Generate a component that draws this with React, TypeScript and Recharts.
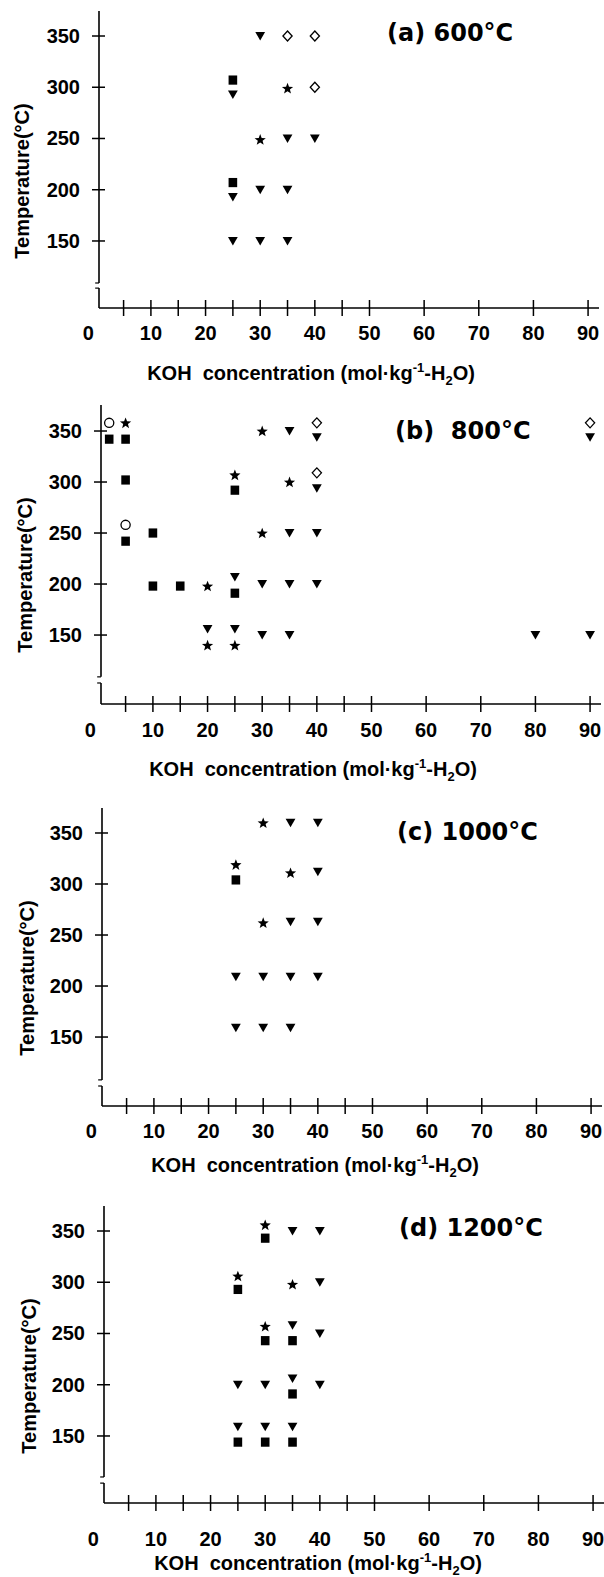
import React from "react";
import { ScatterChart, Scatter, XAxis, YAxis, ReferenceLine } from "recharts";

type Pt = { x: number; y: number };

const xTicks = [0, 5, 10, 15, 20, 25, 30, 35, 40, 45, 50, 60, 70, 80, 90];
const yTicks = [150, 200, 250, 300, 350];

// (a) 600°C
const a600Tri: Pt[] = [
  { x: 30, y: 350 }, { x: 25, y: 293 }, { x: 35, y: 250 }, { x: 40, y: 250 },
  { x: 25, y: 193 }, { x: 30, y: 200 }, { x: 35, y: 200 },
  { x: 25, y: 150 }, { x: 30, y: 150 }, { x: 35, y: 150 },
];
const a600Sq: Pt[] = [{ x: 25, y: 307 }, { x: 25, y: 207 }];
const a600Star: Pt[] = [{ x: 35, y: 299 }, { x: 30, y: 249 }];
const a600Dia: Pt[] = [{ x: 35, y: 350 }, { x: 40, y: 350 }, { x: 40, y: 300 }];

// (b) 800°C
const b800Tri: Pt[] = [
  { x: 35, y: 350 }, { x: 40, y: 344 }, { x: 90, y: 344 }, { x: 40, y: 294 },
  { x: 35, y: 250 }, { x: 40, y: 250 }, { x: 25, y: 207 }, { x: 30, y: 200 },
  { x: 35, y: 200 }, { x: 40, y: 200 }, { x: 20, y: 156 }, { x: 25, y: 156 },
  { x: 30, y: 150 }, { x: 35, y: 150 }, { x: 80, y: 150 }, { x: 90, y: 150 },
];
const b800Sq: Pt[] = [
  { x: 2, y: 342 }, { x: 5, y: 342 }, { x: 5, y: 302 }, { x: 5, y: 242 },
  { x: 10, y: 250 }, { x: 10, y: 198 }, { x: 15, y: 198 }, { x: 25, y: 292 },
  { x: 25, y: 191 },
];
const b800Star: Pt[] = [
  { x: 5, y: 358 }, { x: 30, y: 350 }, { x: 25, y: 307 }, { x: 35, y: 300 },
  { x: 30, y: 250 }, { x: 20, y: 198 }, { x: 20, y: 140 }, { x: 25, y: 140 },
];
const b800Dia: Pt[] = [{ x: 40, y: 358 }, { x: 90, y: 358 }, { x: 40, y: 309 }];
const b800Circ: Pt[] = [{ x: 2, y: 358 }, { x: 5, y: 258 }];

// (c) 1000°C
const c1000Tri: Pt[] = [
  { x: 35, y: 360 }, { x: 40, y: 360 }, { x: 40, y: 312 }, { x: 35, y: 263 },
  { x: 40, y: 263 }, { x: 25, y: 209 }, { x: 30, y: 209 }, { x: 35, y: 209 },
  { x: 40, y: 209 }, { x: 25, y: 159 }, { x: 30, y: 159 }, { x: 35, y: 159 },
];
const c1000Sq: Pt[] = [{ x: 25, y: 304 }];
const c1000Star: Pt[] = [
  { x: 30, y: 360 }, { x: 25, y: 319 }, { x: 35, y: 311 }, { x: 30, y: 262 },
];

// (d) 1200°C
const d1200Tri: Pt[] = [
  { x: 35, y: 350 }, { x: 40, y: 350 }, { x: 40, y: 300 }, { x: 35, y: 258 },
  { x: 40, y: 250 }, { x: 25, y: 200 }, { x: 30, y: 200 }, { x: 35, y: 206 },
  { x: 40, y: 200 }, { x: 25, y: 159 }, { x: 30, y: 159 }, { x: 35, y: 159 },
];
const d1200Sq: Pt[] = [
  { x: 30, y: 343 }, { x: 25, y: 293 }, { x: 30, y: 243 }, { x: 35, y: 243 },
  { x: 35, y: 191 }, { x: 25, y: 144 }, { x: 30, y: 144 }, { x: 35, y: 144 },
];
const d1200Star: Pt[] = [
  { x: 30, y: 356 }, { x: 25, y: 306 }, { x: 35, y: 298 }, { x: 30, y: 257 },
];

const panels = [
  {
    title: "(a) 600°C", top: 11, bottom: 308, left: 99, yMin: 84.6, yMax: 374.4,
    brk: [104, 109], tickDy: 25, titleX: 387, titleY: 33, yLabX: 22, xTitleX: 311, xTitleY: 373,
    tri: a600Tri, sq: a600Sq, star: a600Star, dia: a600Dia, circ: [] as Pt[],
  },
  {
    title: "(b)  800°C", top: 405, bottom: 704, left: 101, yMin: 82.4, yMax: 375.5,
    brk: [103, 109], tickDy: 26, titleX: 395, titleY: 431, yLabX: 25, xTitleX: 313, xTitleY: 769,
    tri: b800Tri, sq: b800Sq, star: b800Star, dia: b800Dia, circ: b800Circ,
  },
  {
    title: "(c) 1000°C", top: 808, bottom: 1106, left: 102, yMin: 82.4, yMax: 374.5,
    brk: [102, 108], tickDy: 25, titleX: 397, titleY: 832, yLabX: 27, xTitleX: 315, xTitleY: 1165,
    tri: c1000Tri, sq: c1000Sq, star: c1000Star, dia: [] as Pt[], circ: [] as Pt[],
  },
  {
    title: "(d) 1200°C", top: 1206, bottom: 1503, left: 104, yMin: 84.6, yMax: 374.4,
    brk: [104, 110], tickDy: 36, titleX: 399, titleY: 1228, yLabX: 29, xTitleX: 318, xTitleY: 1563,
    tri: d1200Tri, sq: d1200Sq, star: d1200Star, dia: [] as Pt[], circ: [] as Pt[],
  },
];

const tickFont = "'Liberation Sans', Arial, Helvetica, sans-serif";

const starPath = (cx: number, cy: number) => {
  let d = "";
  for (let i = 0; i < 10; i++) {
    const r = i % 2 === 0 ? 5.9 : 2.5;
    const a = -Math.PI / 2 + (i * Math.PI) / 5;
    d += `${i === 0 ? "M" : "L"}${cx + r * Math.cos(a)},${cy + r * Math.sin(a)}`;
  }
  return d + "Z";
};

const Marker = ({ cx, cy, kind }: { cx?: number; cy?: number; kind: string }) => {
  if (cx == null || cy == null) return null;
  if (kind === "tri")
    return <path d={`M${cx - 4.9},${cy - 4} L${cx + 4.9},${cy - 4} L${cx},${cy + 4.5} Z`} fill="#000" />;
  if (kind === "sq") return <rect x={cx - 4.3} y={cy - 4.6} width={8.6} height={9.2} fill="#000" />;
  if (kind === "star") return <path d={starPath(cx, cy + 0.5)} fill="#000" />;
  if (kind === "dia")
    return (
      <path
        d={`M${cx},${cy - 5} L${cx + 4.6},${cy} L${cx},${cy + 5} L${cx - 4.6},${cy} Z`}
        fill="#fff"
        stroke="#000"
        strokeWidth={1.3}
      />
    );
  return <circle cx={cx} cy={cy} r={4.6} fill="#fff" stroke="#000" strokeWidth={1.3} />;
};

const XTick = (props: any) => {
  const { x, y, payload, dy } = props;
  const v = payload.value;
  return (
    <g>
      {v !== 0 && <line x1={x} x2={x} y1={y - 8} y2={y + 8} stroke="#000" strokeWidth={1.5} />}
      {v % 10 === 0 && (
        <text
          x={v === 0 ? x - 8 : x}
          y={y + dy}
          textAnchor="middle"
          dominantBaseline="central"
          fontFamily={tickFont}
          fontWeight="bold"
          fontSize={20}
          fill="#000"
        >
          {v}
        </text>
      )}
    </g>
  );
};

const YTick = (props: any) => {
  const { x, y, payload } = props;
  return (
    <g>
      <line x1={x - 7} x2={x + 6} y1={y} y2={y} stroke="#000" strokeWidth={1.5} />
      <text
        x={x - 19}
        y={y}
        textAnchor="end"
        dominantBaseline="central"
        fontFamily={tickFont}
        fontWeight="bold"
        fontSize={20}
        fill="#000"
      >
        {payload.value}
      </text>
    </g>
  );
};

const kinds = ["tri", "sq", "star", "dia", "circ"] as const;

export default function App() {
  return (
    <div
      style={{
        position: "absolute",
        left: 0,
        top: 0,
        width: 604,
        height: 1577,
        background: "#fff",
        overflow: "hidden",
      }}
    >
      {panels.map((p) => {
        const plotH = p.bottom - p.top;
        return (
          <div key={p.title} style={{ position: "absolute", left: 0, top: p.top - 10 }}>
            <ScatterChart
              width={604}
              height={10 + plotH + 50}
              margin={{ top: 10, right: 604 - p.left - 500, bottom: 0, left: 0 }}
            >
              <XAxis
                type="number"
                dataKey="x"
                domain={[0.5, 92]}
                allowDataOverflow
                ticks={xTicks}
                interval={0}
                height={50}
                tickSize={0}
                tickMargin={0}
                axisLine={{ stroke: "#000", strokeWidth: 1.6 }}
                tickLine={false}
                tick={(t: any) => <XTick {...t} dy={p.tickDy} />}
              />
              <YAxis
                type="number"
                dataKey="y"
                domain={[p.yMin, p.yMax]}
                allowDataOverflow
                ticks={yTicks}
                interval={0}
                width={p.left}
                tickSize={0}
                tickMargin={0}
                axisLine={false}
                tickLine={false}
                tick={(t: any) => <YTick {...t} />}
              />
              <ReferenceLine
                segment={[{ x: 0.5, y: p.yMax }, { x: 0.5, y: p.brk[1] }]}
                stroke="#000"
                strokeWidth={1.6}
                ifOverflow="visible"
              />
              <ReferenceLine
                segment={[{ x: 0.5, y: p.brk[0] }, { x: 0.5, y: p.yMin }]}
                stroke="#000"
                strokeWidth={1.6}
                ifOverflow="visible"
              />
              <ReferenceLine
                segment={[{ x: -0.2, y: p.brk[1] }, { x: 0.5, y: p.brk[1] }]}
                stroke="#000"
                strokeWidth={1.2}
                ifOverflow="visible"
              />
              <ReferenceLine
                segment={[{ x: -0.2, y: p.brk[0] }, { x: 0.5, y: p.brk[0] }]}
                stroke="#000"
                strokeWidth={1.2}
                ifOverflow="visible"
              />
              {kinds.map((k) =>
                (p as any)[k].length ? (
                  <Scatter
                    key={k}
                    data={(p as any)[k]}
                    isAnimationActive={false}
                    shape={(s: any) => <Marker cx={s.cx} cy={s.cy} kind={k} />}
                  />
                ) : null
              )}
            </ScatterChart>
          </div>
        );
      })}
      <svg
        width={604}
        height={1577}
        style={{ position: "absolute", left: 0, top: 0, pointerEvents: "none" }}
      >
        {panels.map((p) => {
          const yc = p.top + 170;
          return (
            <g key={p.title}>
              <text
                x={p.titleX}
                y={p.titleY}
                dominantBaseline="central"
                fontFamily="'DejaVu Sans', sans-serif"
                fontWeight="bold"
                fontSize={24}
                style={{ whiteSpace: "pre" }}
                fill="#000"
              >
                {p.title}
              </text>
              <text
                x={p.yLabX}
                y={yc}
                transform={`rotate(-90 ${p.yLabX} ${yc})`}
                textAnchor="middle"
                dominantBaseline="central"
                fontFamily={tickFont}
                fontWeight="bold"
                fontSize={20}
                fill="#000"
              >
                Temperature(°C)
              </text>
              <text
                x={p.xTitleX}
                y={p.xTitleY + 7}
                textAnchor="middle"
                fontFamily={tickFont}
                fontWeight="bold"
                fontSize={20}
                style={{ whiteSpace: "pre" }}
                fill="#000"
              >
                {"KOH  concentration (mol·kg"}
                <tspan fontSize={13} dy={-8}>-1</tspan>
                <tspan dy={8}>-H</tspan>
                <tspan fontSize={13} dy={5}>2</tspan>
                <tspan dy={-5}>O)</tspan>
              </text>
            </g>
          );
        })}
      </svg>
    </div>
  );
}
